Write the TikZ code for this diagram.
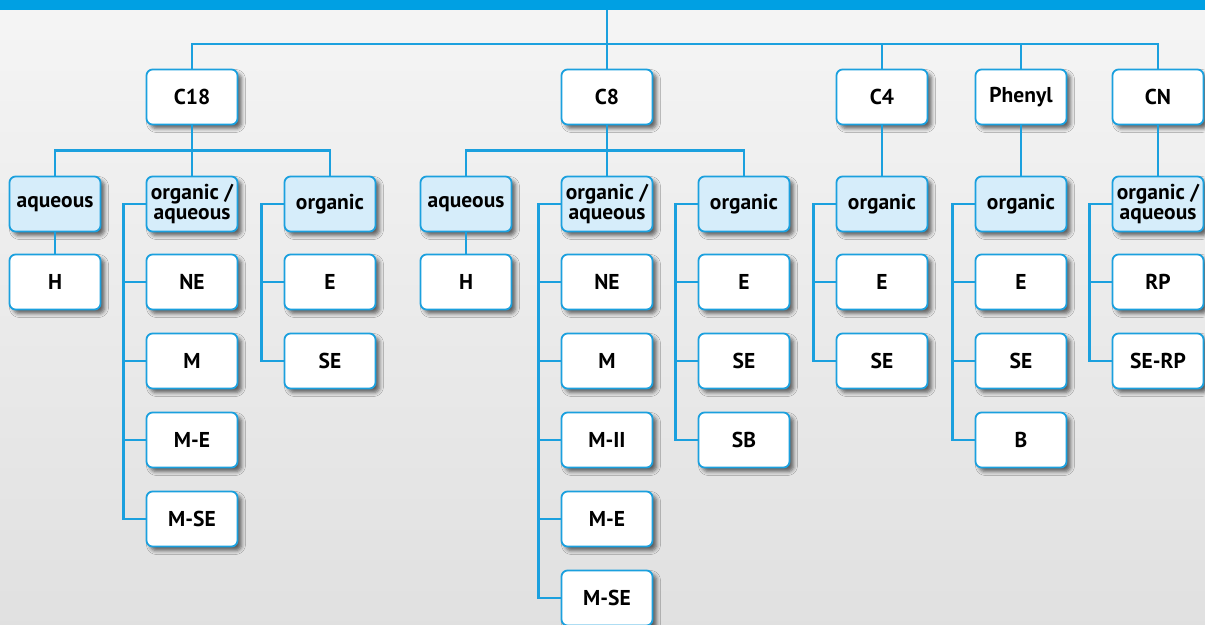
\documentclass[tikz,border=0pt]{standalone}
\usepackage{fontspec}
\setmainfont{PT Sans}
\usetikzlibrary{calc,shadows.blur}
\definecolor{bandblue}{HTML}{00A0E3}
\definecolor{lineblue}{HTML}{1BA0DE}
\definecolor{phasefill}{HTML}{D6EDFA}
\tikzset{
  box/.style={draw=lineblue, line width=1.8pt, fill=white, rounded corners=6pt,
    minimum width=91pt, minimum height=55pt, inner sep=0pt, align=center,
    font=\bfseries\fontsize{21.5}{20}\selectfont,
    blur shadow={shadow xshift=4pt, shadow yshift=-4pt, shadow blur radius=4pt, shadow opacity=60}},
  phase/.style={box, fill=phasefill},
  link/.style={draw=lineblue, line width=2.6pt},
}
\begin{document}
\begin{tikzpicture}[x=1pt,y=-1pt]
	% 设置各行的高度
	\def\rowA{97}
	\def\rowB{204}
	\def\rowC{282}
	\def\rowD{361}
	\def\rowE{440}
	\def\rowF{519}
	\def\rowG{598}
	% 设置支线离方框的距离
	\def\gap{22}

	% 绘制背景
	\useasboundingbox (0,0) rectangle (1205,624);
	\shade[top color=black!4, bottom color=black!12] (0,0) rectangle (1205,624);
	\fill[bandblue] (0,0) rectangle (1205,10);

	% 绘制第一层
	\node[box] (C18) at (192,\rowA) {C18};
	\node[box] (C8) at (607,\rowA) {C8};
	\node[box] (C4) at (882,\rowA) {C4};
	\node[box] (Ph) at (1021,\rowA) {Phenyl};
	\node[box] (CN) at (1158,\rowA) {CN};

	% 绘制 C18 分支
	\node[phase] (C18aq) at (55,\rowB) {aqueous};
	\node[phase] (C18oa) at (192,\rowB) {organic /\\aqueous};
	\node[phase] (C18org) at (330,\rowB) {organic};
	\node[box] (C18H) at (55,\rowC) {H};
	\node[box] (C18NE) at (192,\rowC) {NE};
	\node[box] (C18M) at (192,\rowD) {M};
	\node[box] (C18ME) at (192,\rowE) {M-E};
	\node[box] (C18MSE) at (192,\rowF) {M-SE};
	\node[box] (C18E) at (330,\rowC) {E};
	\node[box] (C18SE) at (330,\rowD) {SE};

	% 绘制 C8 分支
	\node[phase] (C8aq) at (466,\rowB) {aqueous};
	\node[phase] (C8oa) at (607,\rowB) {organic /\\aqueous};
	\node[phase] (C8org) at (744,\rowB) {organic};
	\node[box] (C8H) at (466,\rowC) {H};
	\node[box] (C8NE) at (607,\rowC) {NE};
	\node[box] (C8M) at (607,\rowD) {M};
	\node[box] (C8MII) at (607,\rowE) {M-II};
	\node[box] (C8ME) at (607,\rowF) {M-E};
	\node[box] (C8MSE) at (607,\rowG) {M-SE};
	\node[box] (C8E) at (744,\rowC) {E};
	\node[box] (C8SE) at (744,\rowD) {SE};
	\node[box] (C8SB) at (744,\rowE) {SB};

	% 绘制 C4、Phenyl、CN 分支
	\node[phase] (C4org) at (882,\rowB) {organic};
	\node[box] (C4E) at (882,\rowC) {E};
	\node[box] (C4SE) at (882,\rowD) {SE};
	\node[phase] (Phorg) at (1021,\rowB) {organic};
	\node[box] (PhE) at (1021,\rowC) {E};
	\node[box] (PhSE) at (1021,\rowD) {SE};
	\node[box] (PhB) at (1021,\rowE) {B};
	\node[phase] (CNoa) at (1158,\rowB) {organic /\\aqueous};
	\node[box] (CNRP) at (1158,\rowC) {RP};
	\node[box] (CNSERP) at (1158,\rowD) {SE-RP};

	% 绘制顶部连线
	\coordinate (top) at (607,10);
	\coordinate (bar) at (607,44);
	\draw[link] (top) -- (C8.north);
	\draw[link] (C18.north) |- (bar) -| (CN.north);
	\draw[link] (C4.north) -- (C4.north |- bar);
	\draw[link] (Ph.north) -- (Ph.north |- bar);

	% 绘制第二层连线
	\draw[link] (C18) -- (C18oa);
	\draw[link] (C18aq.north) |- ($(C18.south)!0.5!(C18oa.north)$) -| (C18org.north);
	\draw[link] (C8) -- (C8oa);
	\draw[link] (C8aq.north) |- ($(C8.south)!0.5!(C8oa.north)$) -| (C8org.north);
	\draw[link] (C4) -- (C4org);
	\draw[link] (Ph) -- (Phorg);
	\draw[link] (CN) -- (CNoa);
	\draw[link] (C18aq) -- (C18H);
	\draw[link] (C8aq) -- (C8H);

	% 绘制左侧支线
	\coordinate (C18oaL) at ($(C18oa.west)+(-\gap,0)$);
	\draw[link] (C18oa.west) -- (C18oaL) |- (C18MSE.west);
	\foreach \n in {NE,M,ME} \draw[link] (C18\n.west) -- (C18\n.west -| C18oaL);
	\coordinate (C18orgL) at ($(C18org.west)+(-\gap,0)$);
	\draw[link] (C18org.west) -- (C18orgL) |- (C18SE.west);
	\draw[link] (C18E.west) -- (C18E.west -| C18orgL);

	\coordinate (C8oaL) at ($(C8oa.west)+(-\gap,0)$);
	\draw[link] (C8oa.west) -- (C8oaL) |- (C8MSE.west);
	\foreach \n in {NE,M,MII,ME} \draw[link] (C8\n.west) -- (C8\n.west -| C8oaL);
	\coordinate (C8orgL) at ($(C8org.west)+(-\gap,0)$);
	\draw[link] (C8org.west) -- (C8orgL) |- (C8SB.west);
	\foreach \n in {E,SE} \draw[link] (C8\n.west) -- (C8\n.west -| C8orgL);

	\coordinate (C4orgL) at ($(C4org.west)+(-\gap,0)$);
	\draw[link] (C4org.west) -- (C4orgL) |- (C4SE.west);
	\draw[link] (C4E.west) -- (C4E.west -| C4orgL);
	\coordinate (PhorgL) at ($(Phorg.west)+(-\gap,0)$);
	\draw[link] (Phorg.west) -- (PhorgL) |- (PhB.west);
	\foreach \n in {E,SE} \draw[link] (Ph\n.west) -- (Ph\n.west -| PhorgL);
	\coordinate (CNoaL) at ($(CNoa.west)+(-\gap,0)$);
	\draw[link] (CNoa.west) -- (CNoaL) |- (CNSERP.west);
	\draw[link] (CNRP.west) -- (CNRP.west -| CNoaL);
\end{tikzpicture}
\end{document}
